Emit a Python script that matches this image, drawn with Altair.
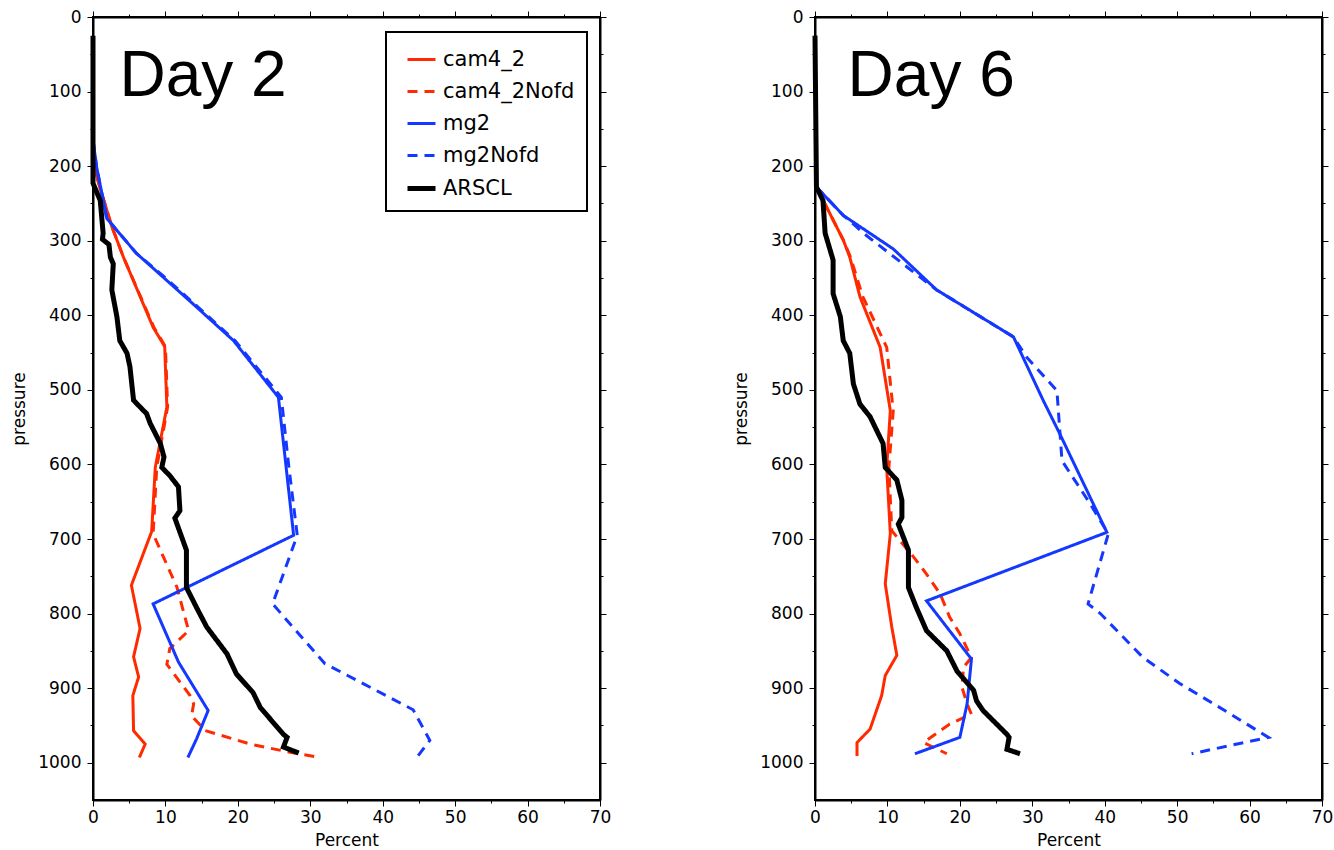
import altair as alt
import pandas as pd

SERIES = ["cam4_2", "cam4_2Nofd", "mg2", "mg2Nofd", "ARSCL"]
COLORS = ["#ff2a00", "#ff2a00", "#1438ff", "#1438ff", "#000000"]
DASHES = [[1, 0], [10, 7], [1, 0], [10, 7], [1, 0]]
WIDTHS = [3, 3, 3, 3, 5]

# ---- Day 2 ----
d2_cam_p = [196, 230, 281, 322, 416, 442, 523, 604, 690, 762, 820, 858, 885, 910, 957, 975, 993]
d2_cam_x = [0, 1.0, 2.6, 4.2, 8.3, 9.9, 10.2, 8.6, 8.1, 5.3, 6.5, 5.6, 6.3, 5.5, 5.6, 7.2, 6.4]
d2_camN_p = [196, 230, 281, 322, 416, 442, 523, 604, 693, 765, 823, 847, 868, 910, 921, 937, 957, 975, 986, 993]
d2_camN_x = [0, 1.0, 2.6, 4.2, 8.4, 10.0, 10.3, 8.8, 8.3, 11.6, 13.2, 10.6, 10.2, 13.4, 13.9, 13.6, 15.5, 21.7, 27.2, 31.4]
d2_mg_p = [165, 201, 270, 317, 349, 389, 434, 510, 695, 787, 865, 930, 968, 993]
d2_mg_x = [0, 0.5, 1.9, 6.0, 9.7, 14.3, 19.4, 25.6, 27.7, 8.3, 11.8, 15.9, 14.3, 13.1]
d2_mgN_p = [165, 201, 270, 317, 349, 389, 434, 510, 600, 695, 787, 867, 929, 970, 993]
d2_mgN_x = [0, 0.5, 1.9, 6.0, 9.9, 14.5, 19.6, 26.0, 27.0, 28.2, 24.8, 32.0, 44.2, 46.5, 44.7]
d2_obs_p = [25, 223, 246, 290, 298, 305, 322, 331, 366, 402, 434, 451, 469, 514, 523, 532, 545,
            572, 590, 604, 615, 630, 662, 672, 680, 715, 765, 792, 818, 854, 881, 906, 926,
            962, 966, 979, 987]
d2_obs_x = [0, 0, 1.0, 1.4, 1.3, 2.2, 2.4, 2.8, 2.6, 3.3, 3.7, 4.7, 5.1, 5.6, 6.5, 7.4, 7.9,
            9.3, 9.8, 9.5, 10.6, 11.8, 12.0, 11.3, 11.6, 12.9, 12.9, 14.3, 15.7, 18.5, 19.8,
            22.1, 23.1, 26.3, 26.8, 26.3, 28.4]

# ---- Day 6 ----
d6_cam_p = [228, 299, 322, 375, 443, 528, 604, 693, 760, 818, 856, 883, 910, 955, 973, 991]
d6_cam_x = [0.2, 3.9, 4.8, 6.2, 9.0, 10.4, 9.9, 10.4, 9.7, 10.6, 11.3, 9.7, 9.2, 7.6, 5.8, 5.8]
d6_camN_p = [228, 299, 322, 375, 443, 528, 604, 689, 724, 747, 774, 805, 827, 859, 872, 899,
             921, 935, 948, 973, 988]
d6_camN_x = [0.2, 3.9, 4.9, 6.6, 9.9, 10.8, 10.2, 10.6, 13.6, 15.4, 17.3, 18.6, 20.0, 21.6,
             20.5, 20.3, 21.0, 21.6, 18.6, 15.0, 18.2]
d6_mg_p = [228, 266, 281, 311, 366, 429, 514, 559, 691, 783, 861, 921, 966, 988]
d6_mg_x = [0.2, 3.9, 6.2, 10.8, 16.8, 27.4, 31.5, 33.8, 40.3, 15.4, 21.6, 21.0, 20.0, 13.8]
d6_mgN_p = [228, 266, 293, 342, 366, 429, 456, 501, 595, 653, 693, 787, 800, 859, 894, 932, 966, 988]
d6_mgN_x = [0.2, 3.9, 7.1, 13.6, 16.8, 27.4, 29.2, 33.4, 34.1, 38.0, 40.5, 37.7, 39.4, 45.3,
            50.4, 56.9, 62.6, 52.0]
d6_obs_p = [25, 228, 246, 290, 326, 371, 402, 434, 451, 492, 519, 536, 572, 604, 621, 648,
            671, 680, 715, 765, 792, 823, 850, 877, 903, 917, 930, 962, 966, 982, 988]
d6_obs_x = [0, 0.2, 1.1, 1.4, 2.5, 2.5, 3.5, 3.9, 4.8, 5.3, 6.2, 7.6, 9.4, 9.7, 11.3, 12.0,
            12.0, 11.5, 12.9, 12.9, 14.0, 15.4, 18.2, 19.6, 21.9, 22.3, 23.2, 26.5, 26.8, 26.5, 28.3]

X_MAJOR = list(range(0, 71, 10))
X_MINOR = list(range(5, 70, 10))
Y_MAJOR = list(range(0, 1001, 100))
Y_MINOR = list(range(50, 1000, 100))

def build(parts):
    rows = []
    for name, ps, xs in parts:
        for i, (p, x) in enumerate(zip(ps, xs)):
            rows.append({"series": name, "pressure": p, "percent": x, "idx": i})
    return pd.DataFrame(rows)

df2 = build([("cam4_2", d2_cam_p, d2_cam_x), ("cam4_2Nofd", d2_camN_p, d2_camN_x),
             ("mg2", d2_mg_p, d2_mg_x), ("mg2Nofd", d2_mgN_p, d2_mgN_x),
             ("ARSCL", d2_obs_p, d2_obs_x)])
df6 = build([("cam4_2", d6_cam_p, d6_cam_x), ("cam4_2Nofd", d6_camN_p, d6_camN_x),
             ("mg2", d6_mg_p, d6_mg_x), ("mg2Nofd", d6_mgN_p, d6_mgN_x),
             ("ARSCL", d6_obs_p, d6_obs_x)])

xscale = alt.Scale(domain=[0, 70], nice=False, zero=False)
yscale = alt.Scale(domain=[0, 1050], nice=False, zero=False, reverse=True)

def panel(df, label, label_x):
    leg = alt.Legend(title=None, orient="none", legendX=293, legendY=15)
    lines = alt.Chart(df).mark_line(strokeJoin="miter", strokeCap="butt").encode(
        x=alt.X("percent:Q", scale=xscale,
                axis=alt.Axis(values=X_MAJOR, title="Percent", tickSize=6, orient="bottom",
                              format="d", labelFlush=False)),
        y=alt.Y("pressure:Q", scale=yscale,
                axis=alt.Axis(values=Y_MAJOR, title="pressure", tickSize=6, orient="left",
                              format="d", labelFlush=False)),
        color=alt.Color("series:N", scale=alt.Scale(domain=SERIES, range=COLORS), legend=leg),
        strokeDash=alt.StrokeDash("series:N", scale=alt.Scale(domain=SERIES, range=DASHES), legend=leg),
        strokeWidth=alt.StrokeWidth("series:N",
                                    scale=alt.Scale(type="ordinal", domain=SERIES, range=WIDTHS),
                                    legend=leg),
        order="idx:Q",
    )
    txt = alt.Chart(pd.DataFrame({"t": [label]})).mark_text(
        font="Liberation Sans", fontSize=64, align="left", baseline="alphabetic", color="black"
    ).encode(
        x=alt.datum(label_x, scale=xscale,
                    axis=alt.Axis(values=X_MAJOR, labels=False, title=None, tickSize=6, orient="top")),
        y=alt.datum(106, scale=yscale,
                    axis=alt.Axis(values=Y_MAJOR, labels=False, title=None, tickSize=6, orient="right")),
        text="t:N",
    )
    minor1 = alt.Chart(df).mark_point(opacity=0).encode(
        x=alt.X("percent:Q", scale=xscale,
                axis=alt.Axis(values=X_MINOR, labels=False, title=None, tickSize=3, domain=False, orient="bottom")),
        y=alt.Y("pressure:Q", scale=yscale,
                axis=alt.Axis(values=Y_MINOR, labels=False, title=None, tickSize=3, domain=False, orient="left")),
    )
    minor2 = alt.Chart(df).mark_point(opacity=0).encode(
        x=alt.X("percent:Q", scale=xscale,
                axis=alt.Axis(values=X_MINOR, labels=False, title=None, tickSize=3, domain=False, orient="top")),
        y=alt.Y("pressure:Q", scale=yscale,
                axis=alt.Axis(values=Y_MINOR, labels=False, title=None, tickSize=3, domain=False, orient="right")),
    )
    return alt.layer(lines, txt, minor1, minor2).resolve_axis(
        x="independent", y="independent"
    ).properties(width=507, height=783)

chart = alt.hconcat(panel(df2, "Day 2", 3.66), panel(df6, "Day 6", 4.5), spacing=119).properties(
    padding={"left": 9, "top": 7, "right": 0, "bottom": 0}
).configure_view(stroke="black", strokeWidth=2).configure_axis(
    labelFont="DejaVu Sans", labelFontSize=17, labelColor="black",
    titleFont="DejaVu Sans", titleFontSize=17, titleFontWeight="normal", titleColor="black",
    tickColor="black", tickWidth=1, domainColor="black", domainWidth=2, grid=False,
).configure_axisX(labelPadding=3, titlePadding=7).configure_axisY(
    labelPadding=6, titlePadding=9
).configure_legend(
    labelFont="DejaVu Sans", labelFontSize=21, labelColor="black", labelOffset=5,
    symbolType="stroke", symbolSize=784, rowPadding=6, padding=12, symbolOffset=7,
    strokeColor="black", strokeWidth=2, fillColor="white",
)

chart.save("out.html", embed_options={"renderer": "svg", "actions": False})
